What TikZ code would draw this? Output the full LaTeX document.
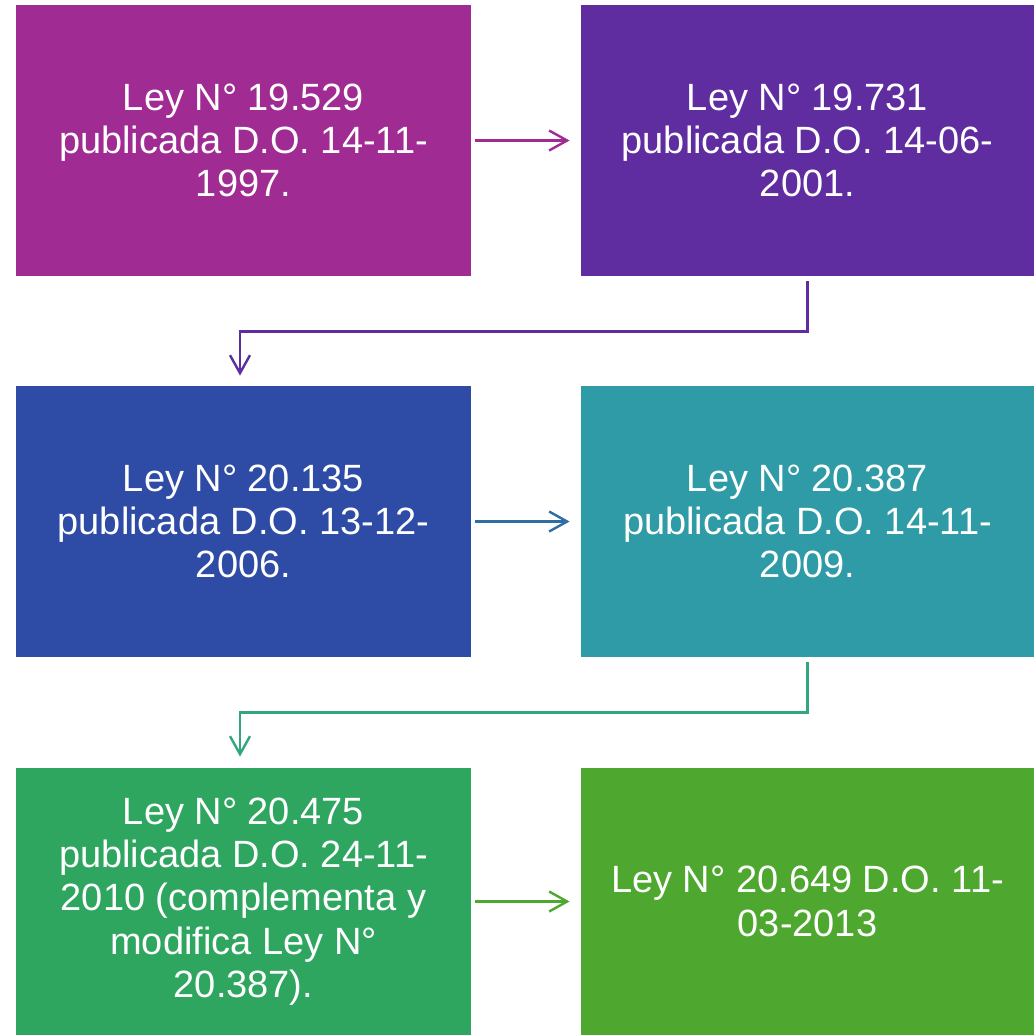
\documentclass[tikz,border=0pt]{standalone}
\usepackage{fontspec}
\setmainfont{Liberation Sans}
\usetikzlibrary{arrows.meta}
\definecolor{lawA}{HTML}{A02B93}
\definecolor{lawB}{HTML}{5F2DA0}
\definecolor{lawC}{HTML}{2E4CA6}
\definecolor{lawD}{HTML}{2E9BA6}
\definecolor{lawE}{HTML}{2EA660}
\definecolor{lawF}{HTML}{4EA72E}
\definecolor{linkC}{HTML}{2E6EA4}
\definecolor{linkD}{HTML}{34A67C}
\tikzset{
  lawbox/.style={rectangle, inner sep=0pt, minimum width=227.5pt, minimum height=135.5pt,
    text=white, align=center, font=\fontsize{19}{21.6}\selectfont},
  link/.style={line width=1.2pt, -{Straight Barb[length=9pt,width=10pt]}}
}
\begin{document}
\begin{tikzpicture}[x=0.5pt,y=-0.5pt]
\useasboundingbox (0,0) rectangle (1034,1035);
 % first row:
\node[lawbox, fill=lawA] (ley529) at (243.5,140.5) {Ley N° 19.529\\publicada D.O. 14-11-\\1997.};
\node[lawbox, fill=lawB, minimum width=226.5pt] (ley731) at (807.5,140.5) {Ley N° 19.731\\publicada D.O. 14-06-\\2001.};
 % second row:
\node[lawbox, fill=lawC] (ley135) at (243.5,521.5) {Ley N° 20.135\\publicada D.O. 13-12-\\2006.};
\node[lawbox, fill=lawD, minimum width=226.5pt] (ley387) at (807.5,521.5) {Ley N° 20.387\\publicada D.O. 14-11-\\2009.};
 % third row:
\node[lawbox, fill=lawE, minimum height=133.5pt] (ley475) at (243.5,901.5) {Ley N° 20.475\\publicada D.O. 24-11-\\2010 (complementa y\\modifica Ley N°\\20.387).};
\node[lawbox, fill=lawF, minimum width=226.5pt, minimum height=133.5pt] (ley649) at (807.5,901.5) {Ley N° 20.649 D.O. 11-\\03-2013};
 % arrows:
\draw[link, lawA, shorten <=2pt, shorten >=5.5pt] (ley529) -- (ley731);
\draw[link, lawB, shorten <=2.5pt, shorten >=5pt] (ley731.south) -- ++(0,55) -| (ley135.north -| 240,0);
\draw[link, linkC, shorten <=2pt, shorten >=5.5pt] (ley135) -- (ley387);
\draw[link, linkD, shorten <=2.5pt, shorten >=5.5pt] (ley387.south) -- ++(0,55) -| (ley475.north -| 240,0);
\draw[link, lawF, shorten <=2pt, shorten >=5.5pt] (ley475) -- (ley649);
\end{tikzpicture}
\end{document}
